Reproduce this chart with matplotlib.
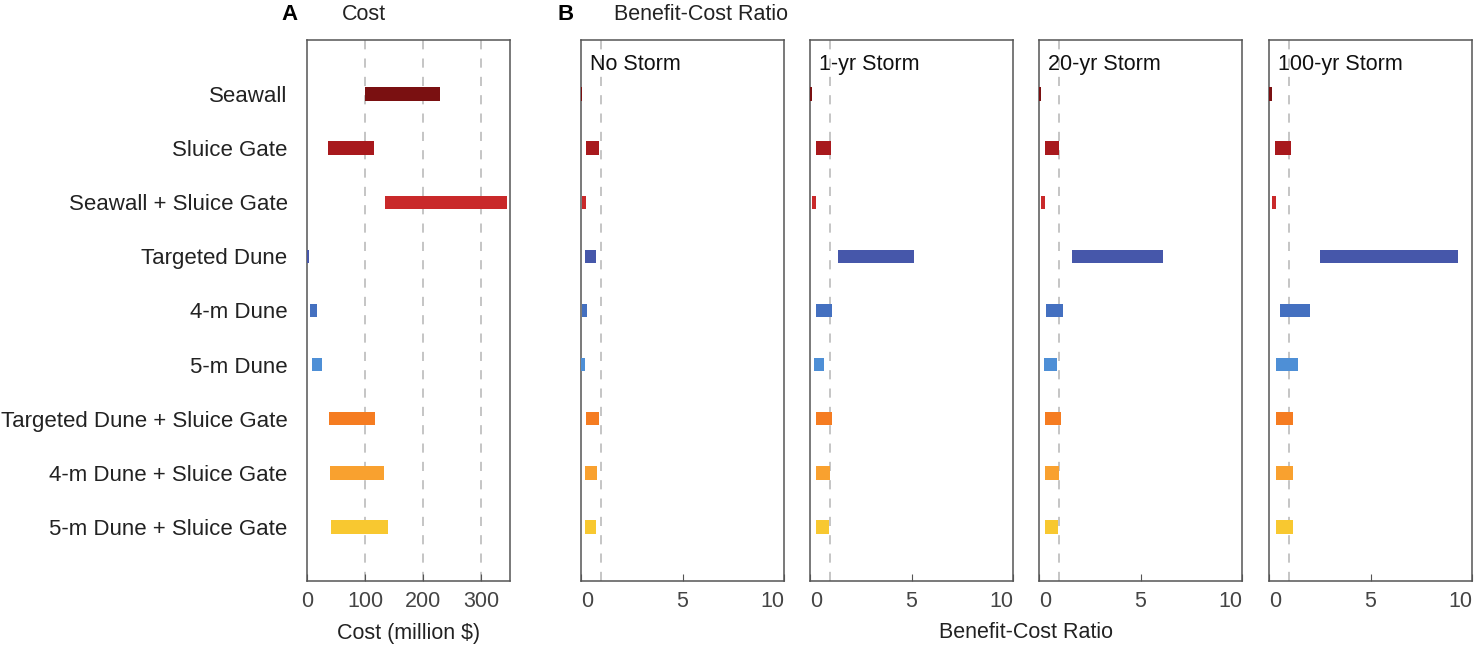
import numpy as np
import matplotlib.pyplot as plt

plt.rcParams['font.family'] = ['Liberation Sans', 'DejaVu Sans']

# Options (top to bottom)
options = ['Seawall', 'Sluice Gate', 'Seawall + Sluice Gate', 'Targeted Dune', '4-m Dune',
           '5-m Dune', 'Targeted Dune + Sluice Gate', '4-m Dune + Sluice Gate', '5-m Dune + Sluice Gate']
colors = ['#7a1011', '#a8191d', '#c9292a', '#4657aa', '#4470c0', '#4e8fd6',
          '#f57c21', '#f9a12f', '#f8c830']

# Cost range (million $): low, high
cost_low = [100, 37, 135, 0, 6, 8, 38, 40, 42]
cost_high = [230, 116, 344, 3, 18, 26, 118, 132, 140]

# Benefit-cost ratio ranges per storm scenario
storms = ['No Storm', '1-yr Storm', '20-yr Storm', '100-yr Storm']
bcr_low = {
    'No Storm':     [0.0, 0.25, 0.07, 0.20, 0.05, 0.00, 0.25, 0.21, 0.21],
    '1-yr Storm':   [0.0, 0.30, 0.10, 1.37, 0.30, 0.20, 0.31, 0.30, 0.30],
    '20-yr Storm':  [0.0, 0.30, 0.12, 1.65, 0.33, 0.25, 0.31, 0.30, 0.30],
    '100-yr Storm': [0.0, 0.31, 0.15, 2.49, 0.53, 0.36, 0.35, 0.35, 0.35],
}
bcr_high = {
    'No Storm':     [0.03, 0.87, 0.25, 0.73, 0.31, 0.21, 0.87, 0.78, 0.73],
    '1-yr Storm':   [0.10, 1.01, 0.30, 5.10, 1.06, 0.69, 1.06, 0.99, 0.94],
    '20-yr Storm':  [0.10, 0.99, 0.31, 6.12, 1.19, 0.89, 1.06, 0.99, 0.94],
    '100-yr Storm': [0.13, 1.06, 0.36, 9.31, 2.01, 1.44, 1.17, 1.19, 1.17],
}

W, H = 1476, 648
fig = plt.figure(figsize=(W / 100, H / 100), dpi=100)

def px_axes(left, right, top, bottom):
    return fig.add_axes([left / W, 1 - bottom / H, (right - left) / W, (bottom - top) / H])

ypos = np.arange(1, len(options) + 1)
bar_h = 0.25
spine_col = '#555555'
tick_col = '#444444'

def style(ax):
    for s in ax.spines.values():
        s.set_color(spine_col)
        s.set_linewidth(1.1)
    ax.set_ylim(10, 0)
    ax.set_yticks(ypos)
    ax.set_yticks([2, 4, 6, 8], minor=True)
    ax.tick_params(axis='y', which='major', length=0)
    ax.tick_params(axis='y', which='minor', length=4, direction='in', left=True, right=True, color=spine_col)
    ax.tick_params(axis='x', direction='in', length=5, color=spine_col, labelsize=15.5,
                   labelcolor=tick_col, pad=7)

# Panel A
axA = px_axes(307, 510, 40, 581)
axA.barh(ypos, np.array(cost_high) - np.array(cost_low), left=cost_low, height=bar_h,
         color=colors, edgecolor='none', zorder=3)
for v in [100, 200, 300]:
    axA.axvline(v, color='#b5b5b5', ls=(0, (6, 6)), lw=1.1, zorder=1)
axA.set_xlim(0, 350)
axA.set_xticks([0, 100, 200, 300])
style(axA)
axA.set_yticklabels(options, fontsize=16, color='#222222')
axA.tick_params(axis='y', which='major', pad=14)
axA.set_xlabel('Cost (million $)', fontsize=15.5, color='#222222', labelpad=8)
fig.text(290 / W, 1 - 14 / H, 'A', fontsize=16, fontweight='bold', ha='center', va='center')
fig.text(364 / W, 1 - 15 / H, 'Cost', fontsize=15.5, ha='center', va='center', color='#222222')

# Panel B
lefts = [581, 810, 1039, 1269]
for left, storm in zip(lefts, storms):
    ax = px_axes(left, left + 203, 40, 581)
    lo = np.array(bcr_low[storm])
    hi = np.array(bcr_high[storm])
    ax.barh(ypos, hi - lo, left=lo, height=bar_h, color=colors, edgecolor='none', zorder=3)
    ax.axvline(1, color='#b5b5b5', ls=(0, (6, 6)), lw=1.1, zorder=1)
    ax.set_xlim(0, 10)
    ax.set_xticks([0, 5, 10])
    style(ax)
    ax.set_yticklabels([])
    xt = ax.get_xticklabels()
    xt[0].set_ha('left')
    xt[-1].set_ha('right')
    ax.text(0.045, 0.975, storm, transform=ax.transAxes, fontsize=15.5, ha='left', va='top',
            color='#111111')

fig.text(566 / W, 1 - 14 / H, 'B', fontsize=16, fontweight='bold', ha='center', va='center')
fig.text(614 / W, 1 - 15 / H, 'Benefit-Cost Ratio', fontsize=15.5, ha='left', va='center', color='#222222')
fig.text(1026 / W, 1 - 633 / H, 'Benefit-Cost Ratio', fontsize=15.5, ha='center', va='center', color='#222222')

fig.savefig('out.png', dpi=100)
